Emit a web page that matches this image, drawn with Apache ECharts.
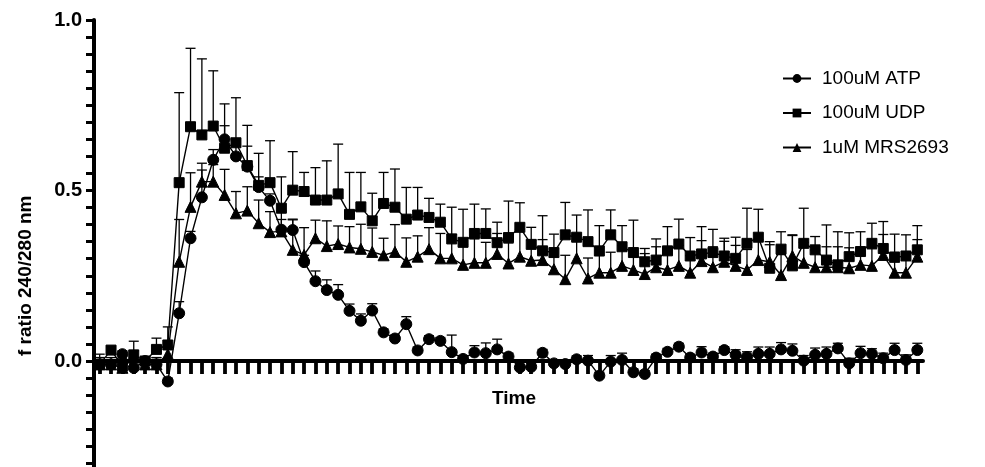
<!DOCTYPE html>
<html>
<head>
<meta charset="utf-8">
<script src="https://cdn.jsdelivr.net/npm/echarts@6/dist/echarts.min.js"></script>
<style>html,body{margin:0;padding:0;background:#fff}#c{width:985px;height:467px}</style>
</head>
<body>
<div id="c"></div>
<script>
// 73 time points (categories)
const timePoints = Array.from({length: 73}, (_, i) => String(i + 1));

const seriesNames = ['100uM ATP', '100uM UDP', '1uM MRS2693'];

const atpMean = [-0.01,-0.01,0.02,-0.02,0.00,-0.01,-0.06,
  0.14,0.36,0.48,0.59,0.65,0.60,0.57,0.51,0.47,0.385,0.384,0.29,0.234,
  0.208,0.194,0.147,0.118,0.148,0.084,0.066,0.108,0.031,0.064,0.059,0.026,
  0.006,0.025,0.023,0.034,0.013,-0.019,-0.017,0.024,-0.007,-0.009,0.005,
  0.001,-0.043,-0.002,0.003,-0.033,-0.038,0.010,0.027,0.042,0.010,0.025,
  0.013,0.032,0.018,0.012,0.021,0.021,0.034,0.030,0.001,0.018,0.021,0.037,
  -0.007,0.023,0.021,0.008,0.032,0.003,0.032];
const atpErr = [0.02,0.01,0.01,0.02,0.01,0.02,0.01,
  0.034,0.02,0.08,0.03,0.04,0.03,0.06,0.03,0.02,0.03,0.03,0.02,0.03,
  0.03,0.03,0.02,0.02,0.02,0.01,0.01,0.022,0.01,0.01,0.01,0.05,
  0.01,0.02,0.03,0.03,0.01,0.01,0.01,0.01,0.01,0.01,0.01,
  0.015,0.01,0.018,0.02,0.01,0.01,0.01,0.01,0.01,0.01,0.017,
  0.01,0.01,0.015,0.015,0.02,0.02,0.02,0.02,0.015,0.02,0.02,0.015,
  0.015,0.02,0.015,0.015,0.02,0.015,0.02];

const udpMean = [-0.01,0.032,-0.015,0.018,0.0,0.034,0.047,
  0.523,0.687,0.663,0.689,0.624,0.640,0.573,0.515,0.523,0.448,0.501,0.497,0.472,
  0.472,0.490,0.430,0.452,0.411,0.462,0.451,0.416,0.428,0.421,0.407,0.358,
  0.348,0.374,0.374,0.347,0.362,0.392,0.342,0.323,0.318,0.370,0.363,
  0.350,0.323,0.370,0.335,0.318,0.291,0.296,0.323,0.343,0.308,0.314,
  0.318,0.308,0.301,0.345,0.363,0.272,0.328,0.279,0.345,0.326,0.296,0.282,
  0.306,0.321,0.345,0.330,0.304,0.308,0.326];
const udpErr = [0.03,0.01,0.02,0.04,0.01,0.033,0.053,
  0.264,0.23,0.223,0.162,0.13,0.132,0.118,0.094,0.123,0.092,0.113,0.056,0.095,
  0.115,0.146,0.123,0.101,0.081,0.091,0.112,0.093,0.081,0.056,0.053,0.093,
  0.097,0.086,0.072,0.06,0.107,0.072,0.05,0.103,0.054,0.095,0.065,
  0.093,0.074,0.073,0.062,0.095,0.039,0.062,0.071,0.073,0.054,0.08,
  0.068,0.052,0.062,0.103,0.082,0.078,0.051,0.091,0.103,0.039,0.103,0.097,
  0.07,0.058,0.059,0.079,0.068,0.062,0.071];

const mrsMean = [-0.01,-0.01,-0.02,0.01,-0.01,-0.01,0.02,
  0.291,0.452,0.526,0.526,0.487,0.433,0.441,0.404,0.378,0.38,0.326,0.311,0.360,
  0.337,0.343,0.333,0.329,0.320,0.310,0.320,0.291,0.306,0.328,0.301,0.301,
  0.282,0.288,0.288,0.314,0.286,0.306,0.294,0.296,0.269,0.240,0.301,
  0.242,0.259,0.259,0.279,0.267,0.255,0.275,0.267,0.279,0.259,0.293,
  0.275,0.291,0.279,0.267,0.296,0.291,0.252,0.308,0.288,0.275,0.275,0.275,
  0.272,0.282,0.279,0.311,0.259,0.259,0.306];
const mrsErr = [0.02,0.02,0.01,0.02,0.02,0.02,0.02,
  0.124,0.1,0.054,0.05,0.075,0.064,0.07,0.068,0.06,0.06,0.09,0.08,0.053,
  0.074,0.053,0.061,0.072,0.07,0.05,0.08,0.07,0.061,0.063,0.073,0.07,
  0.06,0.07,0.06,0.06,0.06,0.08,0.06,0.06,0.06,0.07,0.07,
  0.06,0.05,0.06,0.06,0.05,0.06,0.06,0.06,0.06,0.05,0.06,
  0.06,0.06,0.06,0.06,0.06,0.05,0.06,0.06,0.06,0.05,0.06,0.06,
  0.06,0.05,0.05,0.06,0.06,0.06,0.05];

const yTickLabels = ['0.0', '0.5', '1.0'];
const xAxisTitle = 'Time';
const yAxisTitle = 'f ratio 240/280 nm';

const FONT = 'Liberation Sans, Arial, Helvetica, sans-serif';

function errSeries(mean, err) {
  return {
    type: 'custom',
    z: 1,
    silent: true,
    encode: {x: 0, y: 1},
    data: mean.map((v, i) => [i, v, v + err[i]]),
    renderItem: function (params, api) {
      const idx = api.value(0);
      const p0 = api.coord([idx, api.value(1)]);
      const p1 = api.coord([idx, api.value(2)]);
      const hw = 5;
      const st = {stroke: '#000', lineWidth: 1.3};
      return {
        type: 'group',
        children: [
          {type: 'line', shape: {x1: p0[0], y1: p0[1], x2: p1[0], y2: p1[1]}, style: st},
          {type: 'line', shape: {x1: p1[0] - hw, y1: p1[1], x2: p1[0] + hw, y2: p1[1]}, style: st}
        ]
      };
    }
  };
}

function lineSeries(name, data, symbol, size) {
  return {
    name: name,
    type: 'line',
    z: 3,
    data: data,
    symbol: symbol,
    symbolSize: size,
    showAllSymbol: true,
    lineStyle: {color: '#000', width: 1.4},
    itemStyle: {color: '#000', borderColor: '#000'}
  };
}

const chart = echarts.init(document.getElementById('c'), null, {renderer: 'canvas'});
chart.setOption({
  animation: false,
  backgroundColor: '#fff',
  title: {
    text: xAxisTitle,
    left: 509,
    textAlign: 'center',
    top: 384,
    textStyle: {fontFamily: FONT, fontSize: 19, fontWeight: 'bold', color: '#000'}
  },
  grid: {left: 94, right: 62, top: 20, bottom: -64.5, containLabel: false, outerBoundsMode: 'none'},
  legend: {
    orient: 'vertical',
    left: 777,
    top: 64,
    itemWidth: 28,
    itemHeight: 11,
    itemGap: 15.5,
    data: seriesNames,
    textStyle: {fontFamily: FONT, fontSize: 19, color: '#000', padding: [0, 0, 0, 6]}
  },
  xAxis: {
    type: 'category',
    data: timePoints,
    boundaryGap: true,
    axisLine: {onZero: true, lineStyle: {color: '#000', width: 4}},
    axisTick: {show: true, alignWithLabel: true, interval: 0, length: 13, lineStyle: {color: '#000', width: 3.8}},
    axisLabel: {show: false},
    splitLine: {show: false}
  },
  yAxis: {
    type: 'value',
    min: -0.5,
    max: 1.0,
    interval: 0.05,
    name: yAxisTitle,
    nameLocation: 'middle',
    nameRotate: 90,
    nameGap: 59,
    nameTextStyle: {fontFamily: FONT, fontSize: 19, fontWeight: 'bold', color: '#000'},
    axisLine: {show: true, lineStyle: {color: '#000', width: 4}},
    axisTick: {show: true, length: 8, lineStyle: {color: '#000', width: 3}},
    axisLabel: {
      margin: 12,
      fontFamily: FONT, fontSize: 20, fontWeight: 'bold', color: '#000',
      formatter: function (v) {
        const k = Math.round(v * 2);
        if (Math.abs(v * 2 - k) < 1e-6 && k >= 0 && k < yTickLabels.length) return yTickLabels[k];
        return '';
      }
    },
    splitLine: {show: false}
  },
  series: [
    errSeries(atpMean, atpErr),
    errSeries(udpMean, udpErr),
    errSeries(mrsMean, mrsErr),
    lineSeries(seriesNames[0], atpMean, 'circle', 11),
    lineSeries(seriesNames[1], udpMean, 'rect', 10),
    lineSeries(seriesNames[2], mrsMean, 'triangle', 11)
  ]
});
</script>
</body>
</html>
